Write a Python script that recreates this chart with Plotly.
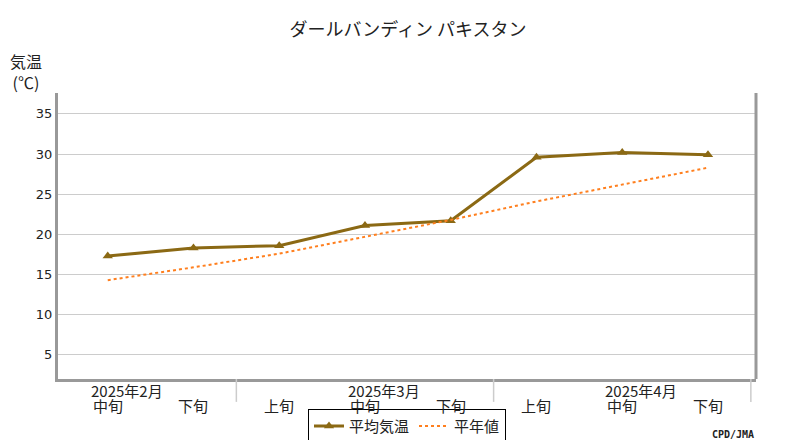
import plotly.graph_objects as go

dekads = ["中旬", "下旬", "上旬", "中旬", "下旬", "上旬", "中旬", "下旬"]
months = ["2025年2月", "2025年3月", "2025年4月"]
month_pos = [0.23, 3.22, 6.22]
mean_temp = [17.3, 18.3, 18.6, 21.1, 21.7, 29.6, 30.2, 29.9]
normal = [14.3, 15.9, 17.6, 19.7, 21.8, 24.1, 26.2, 28.3]
yticks = [5, 10, 15, 20, 25, 30, 35]

FONT = "Noto Sans CJK JP"
x = list(range(len(dekads)))

fig = go.Figure()
fig.add_trace(go.Scatter(x=x, y=mean_temp, name="平均気温", mode="lines+markers",
                         line=dict(color="#8B6914", width=3),
                         marker=dict(symbol="triangle-up", size=9, color="#8B6914")))
fig.add_trace(go.Scatter(x=x, y=normal, name="平年値", mode="lines",
                         line=dict(color="#FF7F1E", width=2, dash="dot")))

ann = []
for i, d in enumerate(dekads):
    ann.append(dict(x=i, y=-0.05, xref="x", yref="paper", text=d, showarrow=False,
                    yanchor="top", font=dict(size=15, color="#222", family=FONT)))
for m, p in zip(months, month_pos):
    ann.append(dict(x=p, y=0.005, xref="x", yref="paper", text=m, showarrow=False,
                    yanchor="top", font=dict(size=15, color="#222", family=FONT)))
ann.append(dict(x=-0.072, y=1.16, xref="paper", yref="paper", text="気温<br>(℃)", showarrow=False,
                xanchor="left", yanchor="top", align="center",
                font=dict(size=16, color="#222", family=FONT)))
ann.append(dict(x=1.0, y=-0.195, xref="paper", yref="paper", text="<b>CPD/JMA</b>", showarrow=False,
                xanchor="right", yanchor="middle", font=dict(size=10, color="#222", family="DejaVu Sans Mono")))

shapes = []
for sx in [1.5, 4.5, 7.5]:
    shapes.append(dict(type="line", xref="x", yref="paper", x0=sx, x1=sx, y0=0, y1=-0.08,
                       line=dict(color="#cccccc", width=1.5)))
shapes.append(dict(type="line", xref="paper", yref="paper", x0=1, x1=1, y0=0, y1=1,
                   line=dict(color="#999999", width=3)))

fig.update_layout(
    width=800, height=440,
    margin=dict(l=50, r=52, t=85, b=69, autoexpand=False),
    paper_bgcolor="white", plot_bgcolor="white",
    font=dict(family=FONT, color="#222"),
    title=dict(text="ダールバンディン パキスタン", x=0.5, xanchor="center", y=0.95, yanchor="middle",
               font=dict(size=18, family=FONT, color="#222")),
    xaxis=dict(range=[-0.58, 7.56], showticklabels=False, showgrid=False, zeroline=False,
               showline=True, linecolor="#999999", linewidth=3, ticks="", automargin=False),
    yaxis=dict(range=[2.0, 37.6], tickvals=yticks, showgrid=True, gridcolor="#cccccc", gridwidth=1,
               zeroline=False, showline=True, linecolor="#999999", linewidth=3, ticks="",
               automargin=False, tickfont=dict(size=13, family="DejaVu Sans", color="#222")),
    legend=dict(orientation="h", x=0.5, xanchor="center", y=-0.165, yanchor="middle",
                bordercolor="#000", borderwidth=1, font=dict(size=15, family=FONT, color="#222")),
    annotations=ann, shapes=shapes,
)
fig.write_html("out.html")
